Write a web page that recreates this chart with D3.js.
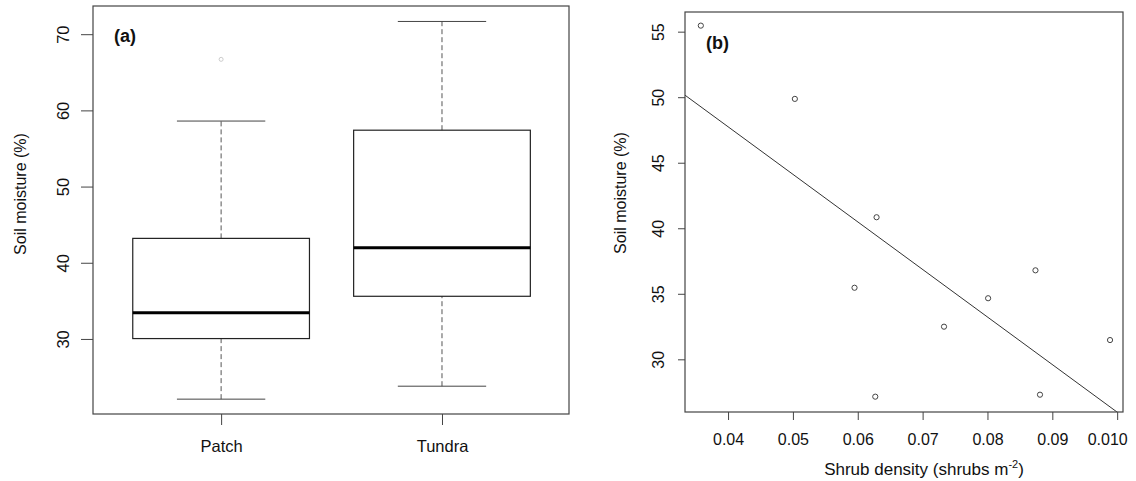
<!DOCTYPE html>
<html>
<head>
<meta charset="utf-8">
<script src="https://cdn.jsdelivr.net/npm/d3@7"></script>
<style>
  body { margin: 0; background: #fff; }
  text { font-family: "Liberation Sans", Arial, sans-serif; fill: #111; }
</style>
</head>
<body>
<svg width="1136" height="481"></svg>
<script>
// panel (a) boxplot summary
const groups = ["Patch", "Tundra"];
const whiskLow = [22.1, 23.8];
const q1 = [30.05, 35.6];
const median = [33.45, 41.97];
const q3 = [43.2, 57.4];
const whiskHigh = [58.6, 71.67];
const outlierGroup = ["Patch"];
const outlierValue = [66.7];
const ticksA = [30, 40, 50, 60, 70];

// panel (b) scatter + fitted line
const shrubDensity = [0.0358, 0.0503, 0.0595, 0.0629, 0.0627, 0.0733, 0.0801, 0.0874, 0.0881, 0.0989];
const soilMoisture = [55.46, 49.87, 35.46, 40.84, 27.15, 32.49, 34.66, 36.79, 27.3, 31.47];
const fitIntercept = 62.26;
const fitSlope = -362.9;
const ticksBx = [0.04, 0.05, 0.06, 0.07, 0.08, 0.09, 0.10];
const tickLabelsBx = ["0.04", "0.05", "0.06", "0.07", "0.08", "0.09", "0.010"];
const ticksBy = [30, 35, 40, 45, 50, 55];

const svg = d3.select("svg");
const axisCol = "#444";
const fontFam = "'Liberation Sans', Arial, sans-serif";

// ---------- panel (a) ----------
const A = {left: 93, right: 569, top: 6, bottom: 414};
const xa = d3.scaleLinear().domain([0.42, 2.575]).range([A.left, A.right]);
const ya = d3.scaleLinear().domain([20.15, 73.7]).range([A.bottom, A.top]);
const pos = g => xa(groups.indexOf(g) + 1);

const ga = svg.append("g");

// whiskers (dashed) and caps
groups.forEach((g, i) => {
  const cx = pos(g);
  ga.append("line").attr("x1", cx).attr("x2", cx)
    .attr("y1", ya(whiskLow[i])).attr("y2", ya(q1[i]))
    .attr("stroke", "#555").attr("stroke-dasharray", "5,3");
  ga.append("line").attr("x1", cx).attr("x2", cx)
    .attr("y1", ya(q3[i])).attr("y2", ya(whiskHigh[i]))
    .attr("stroke", "#555").attr("stroke-dasharray", "5,3");
  [whiskLow[i], whiskHigh[i]].forEach(v => {
    ga.append("line").attr("x1", xa(i + 1 - 0.2)).attr("x2", xa(i + 1 + 0.2))
      .attr("y1", ya(v)).attr("y2", ya(v)).attr("stroke", "#444");
  });
});

ga.selectAll("rect.box").data(groups).join("rect")
  .attr("class", "box")
  .attr("x", (d, i) => xa(i + 1 - 0.4))
  .attr("width", (d, i) => xa(i + 1 + 0.4) - xa(i + 1 - 0.4))
  .attr("y", (d, i) => ya(q3[i]))
  .attr("height", (d, i) => ya(q1[i]) - ya(q3[i]))
  .attr("fill", "none").attr("stroke", "#222").attr("stroke-width", 1.2);

ga.selectAll("line.med").data(groups).join("line")
  .attr("class", "med")
  .attr("x1", (d, i) => xa(i + 1 - 0.4)).attr("x2", (d, i) => xa(i + 1 + 0.4))
  .attr("y1", (d, i) => ya(median[i])).attr("y2", (d, i) => ya(median[i]))
  .attr("stroke", "#000").attr("stroke-width", 3);

ga.selectAll("circle.out").data(outlierValue).join("circle")
  .attr("class", "out")
  .attr("cx", (d, i) => pos(outlierGroup[i]))
  .attr("cy", d => ya(d)).attr("r", 2)
  .attr("fill", "none").attr("stroke", "#ccc");

// axes
const yAxisA = ga.append("g").attr("transform", `translate(${A.left},0)`)
  .call(d3.axisLeft(ya).tickValues(ticksA).tickSize(12).tickFormat(d3.format("d")));
const xAxisA = ga.append("g").attr("transform", `translate(0,${A.bottom})`)
  .call(d3.axisBottom(xa).tickValues([1, 2]).tickSize(11).tickFormat(d => groups[d - 1]));

[yAxisA, xAxisA].forEach(ax => {
  ax.select(".domain").remove();
  ax.selectAll(".tick line").attr("stroke", axisCol);
  ax.selectAll("text").style("font-size", "16.5px")
    .style("font-family", fontFam).attr("fill", "#111");
});
yAxisA.selectAll(".tick text")
  .attr("x", 0).attr("dy", "0.35em").attr("text-anchor", "middle")
  .attr("transform", "translate(-30,0) rotate(-90)");
xAxisA.selectAll(".tick text").attr("y", 0).attr("dy", "0").attr("transform", "translate(0,38)");

ga.append("rect").attr("x", A.left).attr("y", A.top)
  .attr("width", A.right - A.left).attr("height", A.bottom - A.top)
  .attr("fill", "none").attr("stroke", axisCol).attr("stroke-width", 1.2);

ga.append("text").attr("transform", `translate(26,194) rotate(-90)`)
  .attr("text-anchor", "middle").style("font-size", "16px").text("Soil moisture (%)");
ga.append("text").attr("x", 114).attr("y", 42)
  .style("font-size", "18px").style("font-weight", "bold").text("(a)");

// ---------- panel (b) ----------
const B = {left: 685, right: 1123, top: 12, bottom: 412};
const xb = d3.scaleLinear().domain([0.03336, 0.1009]).range([B.left, B.right]);
const yb = d3.scaleLinear().domain([25.98, 56.5]).range([B.bottom, B.top]);

const gb = svg.append("g");
gb.append("clipPath").attr("id", "clipB").append("rect")
  .attr("x", B.left).attr("y", B.top)
  .attr("width", B.right - B.left).attr("height", B.bottom - B.top);

const fitX = xb.domain();
gb.append("line").attr("clip-path", "url(#clipB)")
  .attr("x1", xb(fitX[0])).attr("y1", yb(fitIntercept + fitSlope * fitX[0]))
  .attr("x2", xb(fitX[1])).attr("y2", yb(fitIntercept + fitSlope * fitX[1]))
  .attr("stroke", "#333").attr("stroke-width", 1);

gb.selectAll("circle.pt").data(shrubDensity).join("circle")
  .attr("class", "pt")
  .attr("cx", d => xb(d))
  .attr("cy", (d, i) => yb(soilMoisture[i]))
  .attr("r", 2.6)
  .attr("fill", "none").attr("stroke", "#444").attr("stroke-width", 1);

const yAxisB = gb.append("g").attr("transform", `translate(${B.left},0)`)
  .call(d3.axisLeft(yb).tickValues(ticksBy).tickSize(7).tickFormat(d3.format("d")));
const xAxisB = gb.append("g").attr("transform", `translate(0,${B.bottom})`)
  .call(d3.axisBottom(xb).tickValues(ticksBx).tickSize(8)
    .tickFormat((d, i) => tickLabelsBx[i]));

[yAxisB, xAxisB].forEach(ax => {
  ax.select(".domain").remove();
  ax.selectAll(".tick line").attr("stroke", axisCol);
  ax.selectAll("text").style("font-size", "16px")
    .style("font-family", fontFam).attr("fill", "#111");
});
yAxisB.selectAll(".tick text")
  .attr("x", 0).attr("dy", "0.35em").attr("text-anchor", "middle")
  .attr("transform", "translate(-27,0) rotate(-90)");
xAxisB.selectAll(".tick text").attr("y", 0).attr("dy", "0").attr("transform", "translate(0,33)");
// last label would run past the page edge, nudge it in
xAxisB.selectAll(".tick text").filter((d, i) => i === ticksBx.length - 1)
  .attr("transform", "translate(-10,33)");

gb.append("rect").attr("x", B.left).attr("y", B.top)
  .attr("width", B.right - B.left).attr("height", B.bottom - B.top)
  .attr("fill", "none").attr("stroke", axisCol).attr("stroke-width", 1.2);

gb.append("text").attr("transform", `translate(626,193) rotate(-90)`)
  .attr("text-anchor", "middle").style("font-size", "16px").text("Soil moisture (%)");

const xt = gb.append("text").attr("x", 924).attr("y", 475)
  .attr("text-anchor", "middle").style("font-size", "17px");
xt.append("tspan").text("Shrub density (shrubs m");
xt.append("tspan").attr("dy", -7).style("font-size", "11px").text("-2");
xt.append("tspan").attr("dy", 7).text(")");

gb.append("text").attr("x", 706).attr("y", 49)
  .style("font-size", "18px").style("font-weight", "bold").text("(b)");
</script>
</body>
</html>
